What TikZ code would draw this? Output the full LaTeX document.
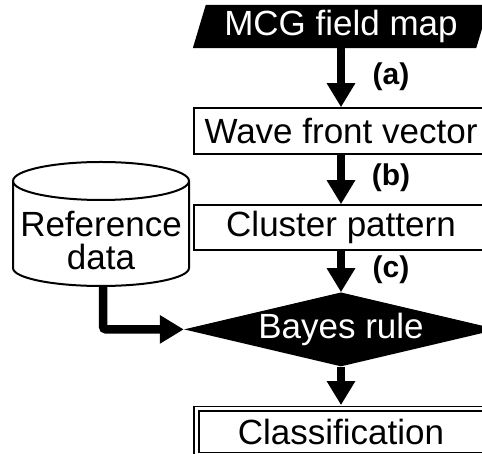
\documentclass[tikz,border=0pt]{standalone}
\usepackage{fontspec}
\setmainfont{Liberation Sans}
\usetikzlibrary{arrows.meta,positioning,shapes.geometric,backgrounds}

\begin{document}
\begin{tikzpicture}[
    x=1pt, y=1pt,
    every node/.style={font=\fontsize{35}{33}\selectfont},
    stepbox/.style={draw, line width=2pt, minimum width=294pt, inner sep=0pt},
    mapbox/.style={text=white, minimum width=283pt, minimum height=43pt, inner sep=0pt},
    rulebox/.style={diamond, fill=black, text=white, aspect=4, minimum width=314pt, minimum height=74pt, inner sep=0pt},
    endbox/.style={draw, line width=1.8pt, double=white, double distance=3pt, minimum width=289pt, minimum height=46pt, inner sep=0pt},
    lbl/.style={font=\fontsize{30}{30}\selectfont\bfseries},
    arr/.style={-{Triangle[width=27pt,length=24pt]}, line width=8.5pt}
  ]
  \useasboundingbox (0,0) rectangle (482,454);
  \clip (0,0) rectangle (482,454);

  % flow on the right
  \node[mapbox] (map) at (341,427.5) {MCG field map};
  \node[stepbox, minimum height=46pt, below=59pt of map] (wave) {Wave front vector};
  \node[stepbox, minimum height=45pt, below=49pt of wave] (cluster) {Cluster pattern};
  \node[rulebox, below=41pt of cluster] (bayes) {Bayes rule};
  \node[endbox, below=41.5pt of bayes] (result) {Classification};

  \begin{scope}[on background layer]
    \fill ([xshift=-6.5pt]map.south west) -- ([xshift=-6.5pt]map.south east)
      -- ([xshift=6.5pt]map.north east) -- ([xshift=6.5pt]map.north west) -- cycle;
  \end{scope}

  \draw[arr] (map) -- (wave);
  \draw[arr] (wave) -- (cluster);
  \draw[arr] (cluster) -- (bayes);
  \draw[arr, shorten >=3pt] (bayes) -- (result);

  \node[lbl] (la) at (391,377) {(a)};
  \node[lbl] (lb) at (391,276) {(b)};
  \node[lbl] (lc) at (391,184) {(c)};

  % reference data store
  \draw[line width=2pt] (101,273) ellipse [x radius=88, y radius=19];
  \draw[line width=2pt] (13,273) -- (13,186)
    arc[start angle=180, end angle=360, x radius=88, y radius=18] -- (189,273);
  \node[align=center] (refdata) at (101,213) {Reference\\data};
  \coordinate (dbout) at (103,168);
  \draw[arr, rounded corners=3pt] (dbout) |- (bayes.west);
\end{tikzpicture}
\end{document}
